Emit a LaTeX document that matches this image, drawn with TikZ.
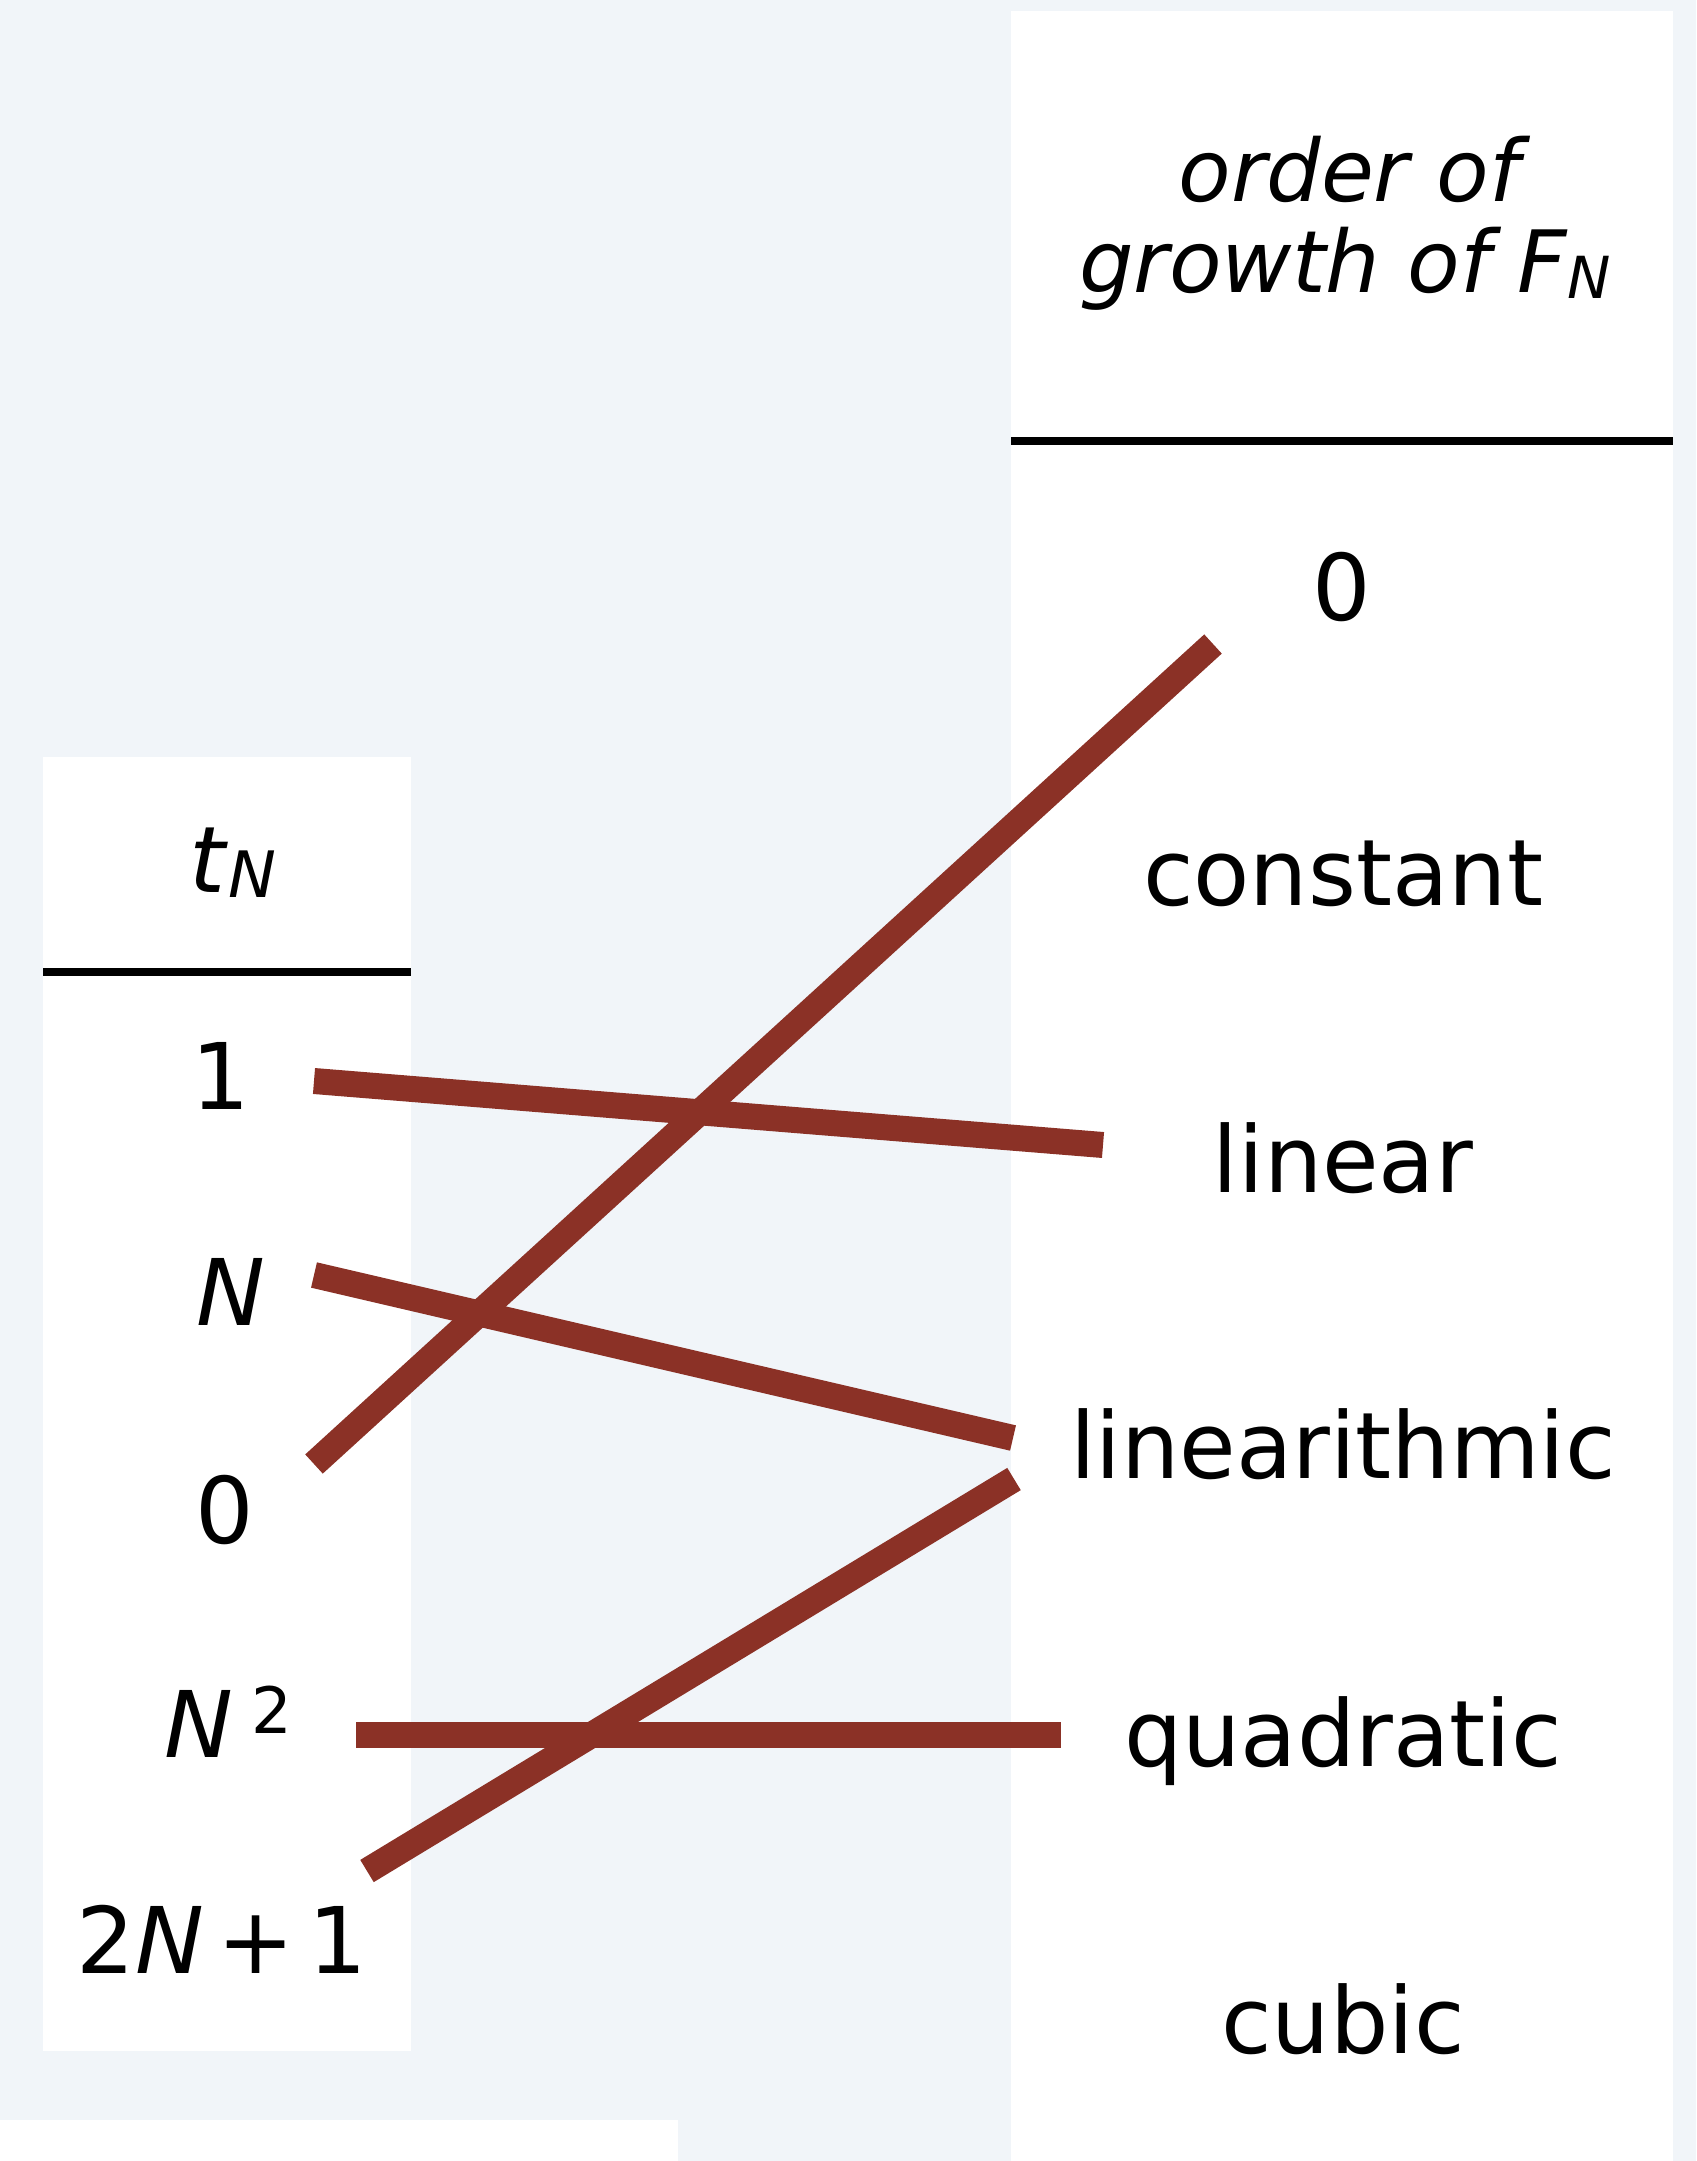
\documentclass[tikz,border=0pt]{standalone}
\usepackage{fontspec}
\setmainfont{DejaVu Sans}
\definecolor{bgcol}{HTML}{F1F5F9}
\definecolor{wirecol}{HTML}{8B3126}
\newcommand\lblfont{\fontsize{46}{55}\selectfont}
\newcommand\smlfont{\fontsize{32}{38}\selectfont}
\newcommand\hdrfont{\fontsize{43}{52}\selectfont\itshape}
\begin{document}
\begin{tikzpicture}[x=0.5pt,y=-0.5pt,
  lbl/.style={inner sep=0pt, anchor=base, font=\lblfont},
  hdr/.style={inner sep=0pt, anchor=base, font=\hdrfont},
  wire/.style={draw=wirecol, line width=13pt},
  rule/.style={draw=black, line width=4pt},
  panel/.style={fill=white, draw=none}]
\useasboundingbox (0,0) rectangle (1696,2161);
\fill[bgcol] (0,0) rectangle (1696,2161);
% panels
\fill[panel] (1011,11) rectangle (1673,2161);
\fill[panel] (43,757) rectangle (411,2051);
\fill[panel] (0,2120) rectangle (678,2161);
\draw[rule] (1011,441) -- (1673,441);
\draw[rule] (43,972) -- (411,972);
% right header
\node[hdr] (hdr1) at (1349,202) {order of};
\node[hdr] (hdr2) at (1345,293) {growth of F\raisebox{-2.5pt}{\fontsize{29}{34}\selectfont N}};
% right labels
\node[lbl] (r0) at (1342,620) {0};
\node[lbl] (rconst) at (1343,905) {constant};
\node[lbl] (rlin) at (1343,1192) {linear};
\node[lbl] (rlinlog) at (1343,1478) {linearithmic};
\node[lbl] (rquad) at (1343,1766) {quadratic};
\node[lbl] (rcubic) at (1343,2053) {cubic};
% left header and labels
\node[lbl] (ltn) at (233,892) {\textit{t}\raisebox{-2.5pt}{\smlfont\textit{N}}};
\node[lbl] (l1) at (221,1109) {1};
\node[lbl] (lN) at (231,1325) {\textit{N}};
\node[lbl] (l0) at (225,1543) {0};
\node[lbl] (lN2) at (228,1757) {\textit{N}\hspace{9pt}\raisebox{12pt}{\smlfont 2}};
\node[lbl] (l2N1) at (222,1973) {2\textit{N}\hspace{0.15em}+\hspace{0.15em}1};
% connector end points
\coordinate (a0) at (314,1464);
\coordinate (b0) at (1213,644);
\coordinate (a1) at (314,1081);
\coordinate (b1) at (1103,1145);
\coordinate (aN) at (314,1275);
\coordinate (bN) at (1013,1438);
\coordinate (aN2) at (356,1735);
\coordinate (bN2) at (1061,1735);
\coordinate (a2N) at (367,1871);
\coordinate (b2N) at (1014,1479);
% connectors
\draw[wire] (a0) -- (b0);
\draw[wire] (a1) -- (b1);
\draw[wire] (aN) -- (bN);
\draw[wire] (aN2) -- (bN2);
\draw[wire] (a2N) -- (b2N);
\end{tikzpicture}
\end{document}
